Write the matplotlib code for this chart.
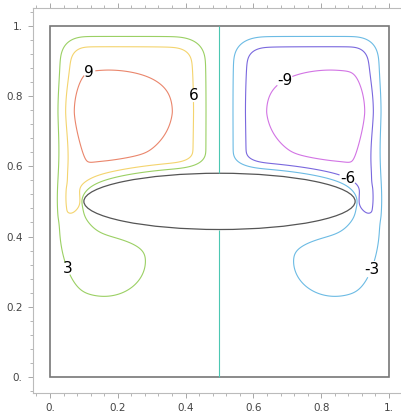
import numpy as np
import matplotlib.pyplot as plt
from matplotlib.patches import Ellipse, Rectangle

# contour levels and colours
levels = [-9, -6, -3, 0, 3, 6, 9]
level_colors = ["#d274e4", "#7a68de", "#6cbbe4", "#4cc7b2", "#9bd064", "#f4d46e", "#ea866c"]

# labelled contours
label_levels = [9, 6, 3, -9, -6, -3]
label_x = [0.115, 0.41, 0.056, 0.70, 0.88, 0.94]
label_y = [0.87, 0.80, 0.31, 0.83, 0.57, 0.31]

# elliptical obstacle
ell_cx, ell_cy = 0.5, 0.5
ell_a, ell_b = 0.40, 0.08

# stream function pieces of the left half (right half = mirror with sign flipped)
# plateau, vortex core, wall jet, tip jet, lower lobe
blob_amp = [8.5, 3.0, 6.1, 3.0, 5.0]
blob_x = [0.22, 0.17, 0.0, 0.07, 0.16]
blob_y = [0.75, 0.755, 0.45, 0.44, 0.33]
blob_sx_l = [0.40, 0.30, 0.06, 0.06, 0.17]
blob_px_l = [4.0, 1.5, 2.0, 2.0, 2.0]
blob_sx_r = [0.40, 0.157, 0.06, 0.06, 0.17]
blob_px_r = [4.0, 2.0, 2.0, 2.0, 2.0]
blob_sy_up = [0.35, 0.095, 0.12, 0.10, 0.14]
blob_py_up = [4.0, 2.0, 2.0, 2.0, 2.0]
blob_sy_dn = [0.28, 0.101, 0.16, 0.08, 0.14]
blob_py_dn = [6.0, 1.5, 2.0, 2.0, 2.0]

# boundary layer widths: left wall, centre line, top, bottom, ellipse (top / tip / under)
d_wall, d_mid, d_top, d_bot = 0.08, 0.10, 0.075, 0.10
d_ell_top, d_ell_tip, d_ell_bot = 0.045, 0.015, 0.06


def ramp(d, w):
    t = np.clip(d, 0, None) / w
    return (1 - np.exp(-t ** 4)) ** 0.25


n = 600
g = (np.arange(n) + 0.5) / n
X, Y = np.meshgrid(g, g)
xm = np.minimum(X, 1 - X)
side = np.sign(0.5 - X)

h = np.zeros_like(X)
for k in range(len(blob_amp)):
    dx = xm - blob_x[k]
    dy = Y - blob_y[k]
    tx = np.where(dx < 0, (np.abs(dx) / blob_sx_l[k]) ** blob_px_l[k],
                  (np.abs(dx) / blob_sx_r[k]) ** blob_px_r[k])
    ty = np.where(dy > 0, (np.abs(dy) / blob_sy_up[k]) ** blob_py_up[k],
                  (np.abs(dy) / blob_sy_dn[k]) ** blob_py_dn[k])
    h += blob_amp[k] * np.exp(-tx - ty)

ex = (X - ell_cx) / ell_a
ey = (Y - ell_cy) / ell_b
r = np.sqrt(ex ** 2 + ey ** 2)
grad = np.sqrt((ex / ell_a) ** 2 + (ey / ell_b) ** 2) / r
dist = (r - 1) / grad
wt = (np.abs(ex) / r) ** 8
d_e = np.where(ey > 0, d_ell_top, d_ell_bot) * (1 - wt) + d_ell_tip * wt

psi = side * h * ramp(xm, d_wall) * ramp(0.5 - xm, d_mid) * ramp(1 - Y, d_top) \
    * ramp(Y, d_bot) * ramp(dist, d_e)
psi = np.ma.masked_where(r < 1, psi)

fig = plt.figure(figsize=(4.02, 4.16), dpi=100)
ax = fig.add_axes([33 / 402, 23 / 416, 373 / 402, 385 / 416])

for lev, col in zip(levels, level_colors):
    cs = ax.contour(g, g, psi, levels=[lev], colors=[col], linewidths=0.8,
                    linestyles="solid")
    spots = [(x, y) for l, x, y in zip(label_levels, label_x, label_y) if l == lev]
    if spots:
        txt = ax.clabel(cs, manual=spots, inline=True, inline_spacing=2, fontsize=11,
                        colors="k", fmt=lambda v: str(int(round(v))))
        for t in txt:
            t.set_rotation(0)

ax.add_patch(Ellipse((ell_cx, ell_cy), 2 * ell_a, 2 * ell_b, fill=False, ec="#555555", lw=0.9))
ax.add_patch(Rectangle((0, 0), 1, 1, fill=False, ec="#777777", lw=1.2))

ax.set_xlim(-0.05, 1.05)
ax.set_ylim(-0.045, 1.05)
ticks = [0, 0.2, 0.4, 0.6, 0.8, 1.0]
tick_text = ["0.", "0.2", "0.4", "0.6", "0.8", "1."]
ax.set_xticks(ticks)
ax.set_xticklabels(tick_text)
ax.set_yticks(ticks)
ax.set_yticklabels(tick_text)
ax.set_xticks(np.arange(-0.04, 1.05, 0.04), minor=True)
ax.set_yticks(np.arange(-0.04, 1.05, 0.04), minor=True)
ax.tick_params(which="both", color="#999999", labelcolor="#444444", labelsize=7.5,
               direction="out", top=True, right=True)
ax.tick_params(which="major", length=3.5, width=0.6, pad=4)
ax.tick_params(which="minor", length=2, width=0.5)
for s in ax.spines.values():
    s.set_color("#bbbbbb")
    s.set_linewidth(0.8)

fig.savefig("out.png", dpi=100)
